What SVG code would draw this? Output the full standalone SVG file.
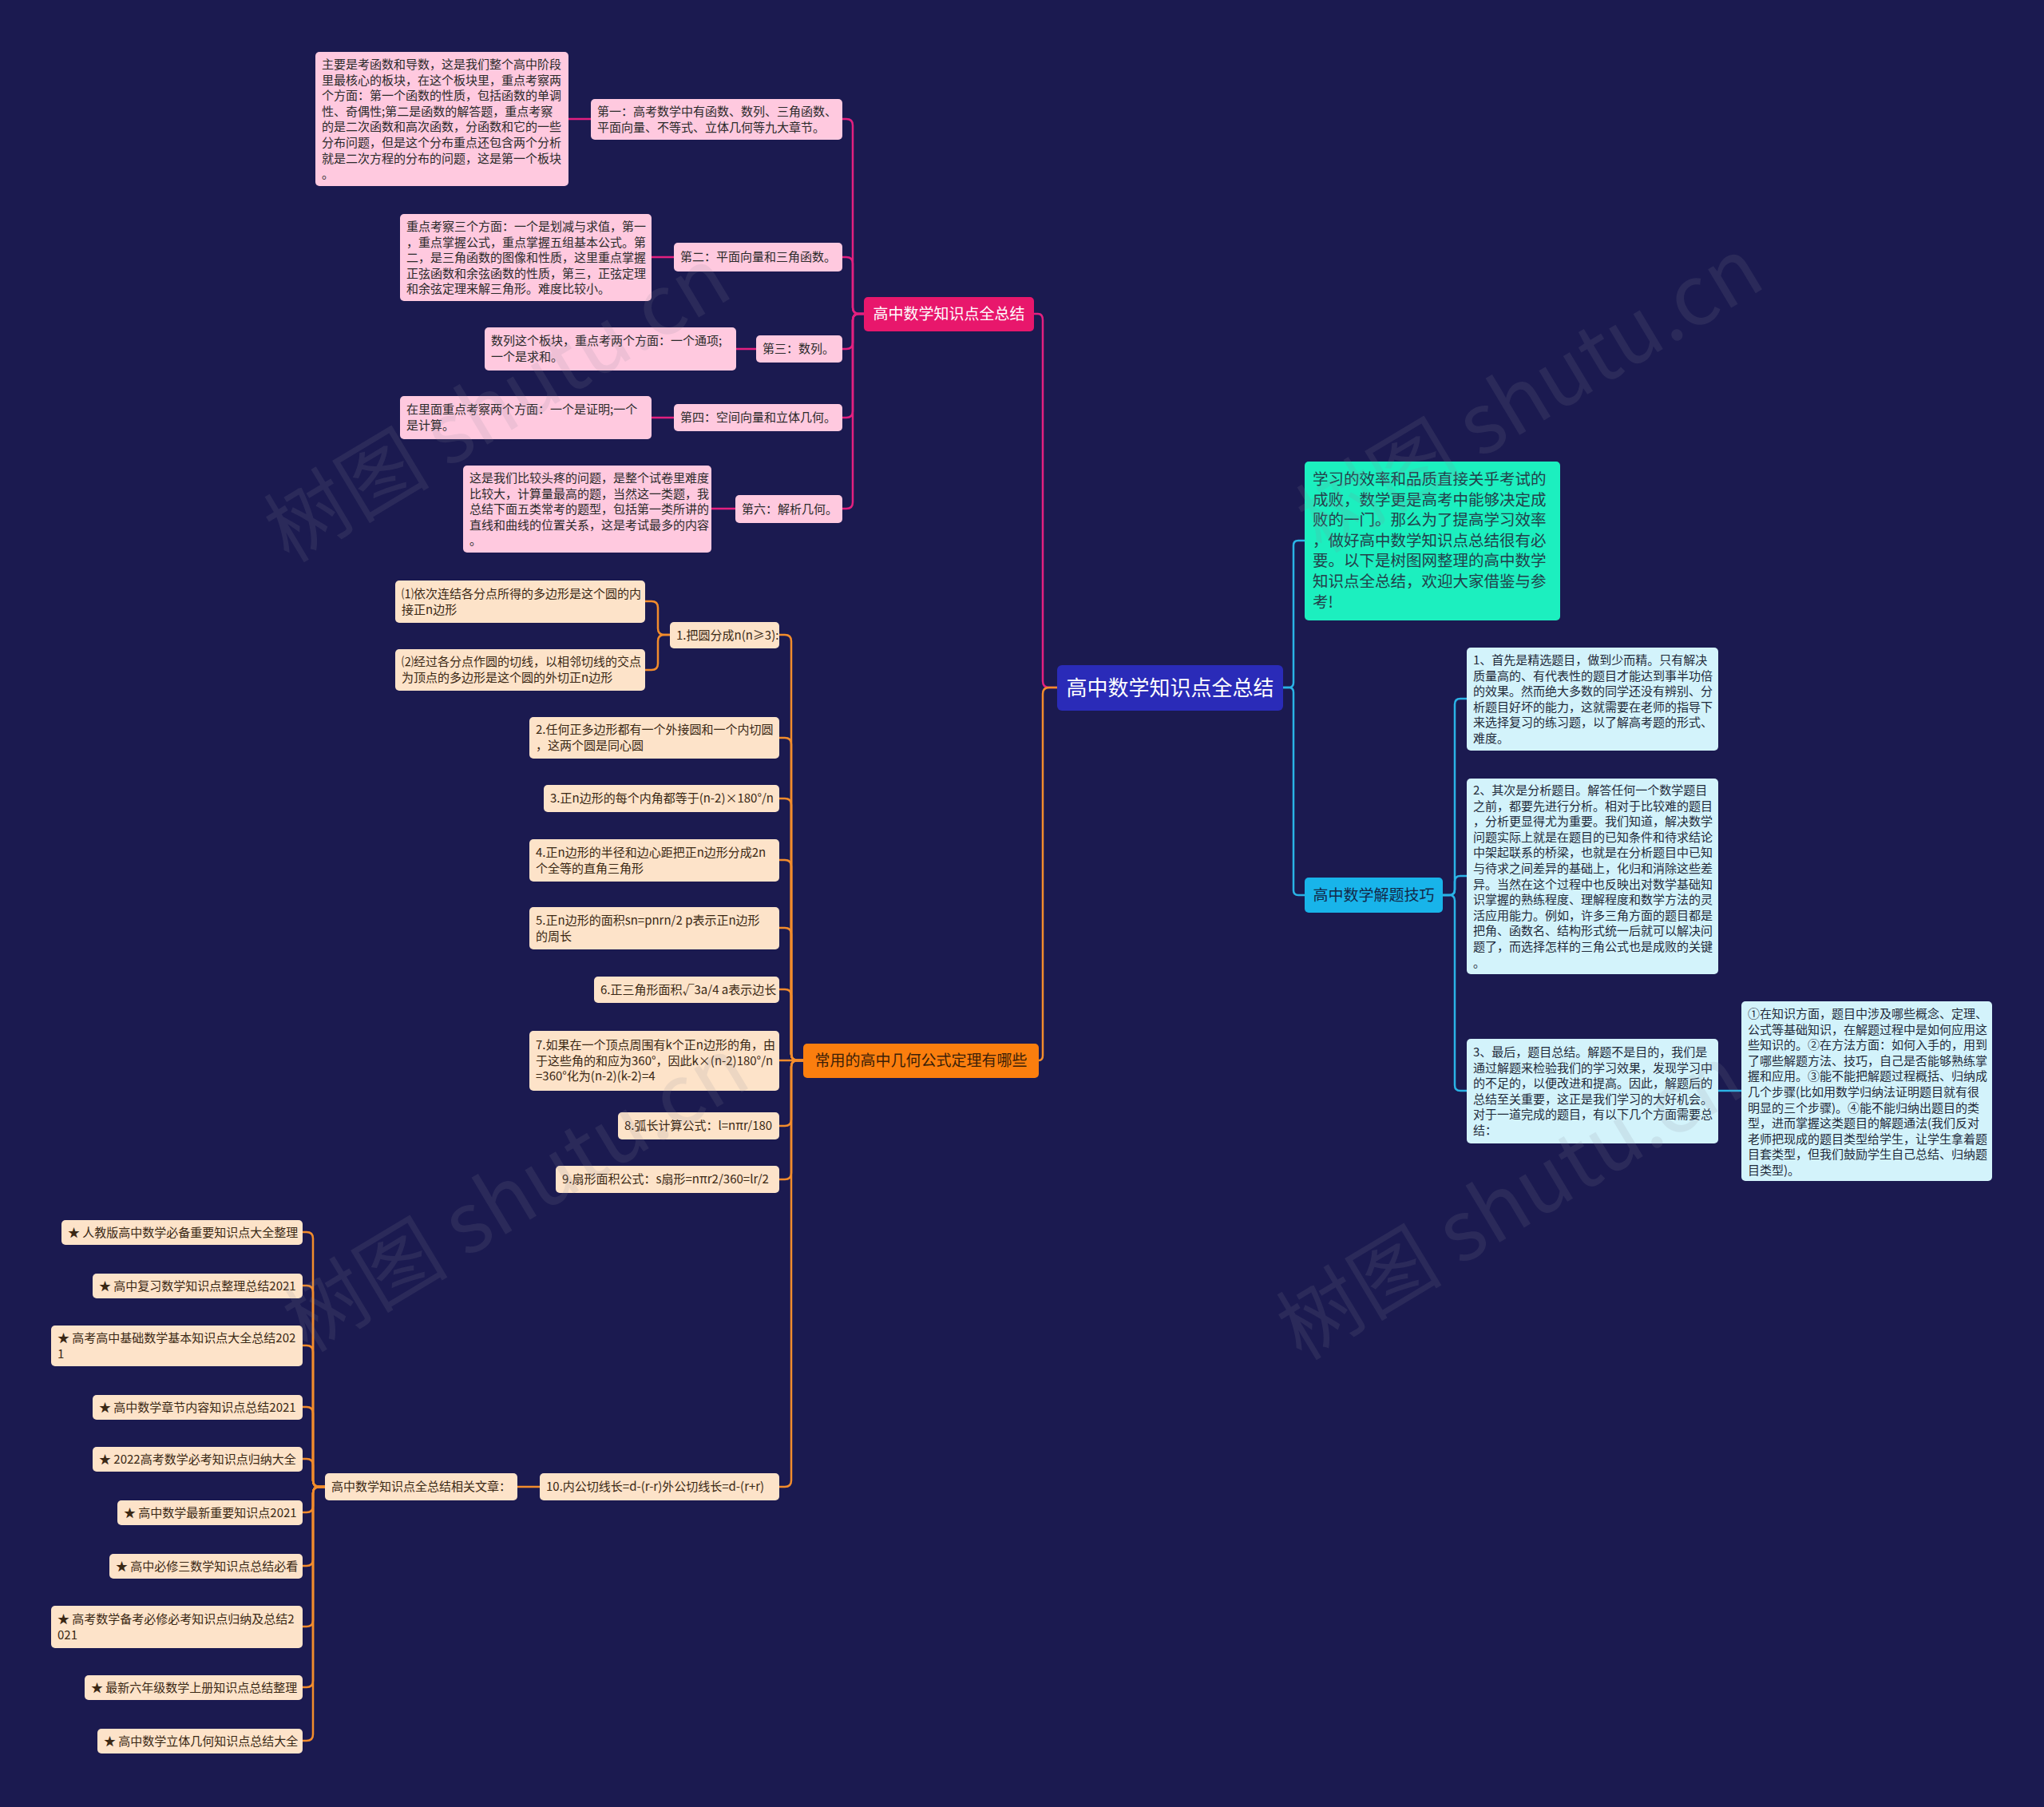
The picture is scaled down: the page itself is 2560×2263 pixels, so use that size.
<svg xmlns="http://www.w3.org/2000/svg" width="2560" height="2263" viewBox="0 0 2560 2263">
<style>
text{font-family:"Noto Sans CJK SC","Noto Sans",sans-serif}
.t15{font-size:15px}
.pk rect{fill:#ffc9df}
.pk text{fill:#2a2a2a}
.pe rect{fill:#fde3c9}
.pe text{fill:#3a2814}
.lb rect{fill:#d3f3fb}
.lb text{fill:#1f2a3a}
.cp{fill:none;stroke:#e3207f;stroke-width:2.5}
.co{fill:none;stroke:#f28c2c;stroke-width:2.5}
.cb{fill:none;stroke:#2ab3e6;stroke-width:2.5}
.wm{font-size:104px;fill:#8a8a9a;opacity:0.14}
</style>
<rect width="2560" height="2263" fill="#1b1a50"/>

<g id="connectors">
<path class="cp" d="M1324,861 H1314 Q1306,861 1306,853 V401 Q1306,393 1300,393 H1295"/>
<path class="co" d="M1324,861 H1314 Q1306,861 1306,869 V1322 Q1306,1328 1301,1328"/>
<path class="cp" d="M1082,393 H1076 Q1068,393 1068,385 V157 Q1068,149 1060,149 H1055"/>
<path class="cp" d="M1082,393 H1076 Q1068,393 1068,385 V330 Q1068,322 1060,322 H1055"/>
<path class="cp" d="M1082,393 H1076 Q1068,393 1068,401 V429 Q1068,437 1060,437 H1055"/>
<path class="cp" d="M1082,393 H1076 Q1068,393 1068,401 V515 Q1068,523 1060,523 H1055"/>
<path class="cp" d="M1082,393 H1076 Q1068,393 1068,401 V629 Q1068,637 1060,637 H1055"/>
<path class="cp" d="M740,149 H712 M844,322 H816 M947,437 H922 M844,523 H816 M921,637 H891"/>
<path class="co" d="M1007,1328 H999 Q991,1328 991,1320 V803 Q991,795 983,795 H976"/>
<path class="co" d="M1007,1328 H999 Q991,1328 991,1320 V932 Q991,924 983,924 H976"/>
<path class="co" d="M1007,1328 H999 Q991,1328 991,1320 V1008 Q991,1000 983,1000 H976"/>
<path class="co" d="M1007,1328 H999 Q991,1328 991,1320 V1085 Q991,1077 983,1077 H976"/>
<path class="co" d="M1007,1328 H999 Q991,1328 991,1320 V1170 Q991,1162 983,1162 H976"/>
<path class="co" d="M1007,1328 H999 Q991,1328 991,1320 V1247 Q991,1239 983,1239 H976"/>
<path class="co" d="M1007,1328 H976"/>
<path class="co" d="M1007,1328 H999 Q991,1328 991,1336 V1402 Q991,1410 983,1410 H976"/>
<path class="co" d="M1007,1328 H999 Q991,1328 991,1336 V1469 Q991,1477 983,1477 H976"/>
<path class="co" d="M1007,1328 H999 Q991,1328 991,1336 V1854 Q991,1862 983,1862 H976"/>
<path class="co" d="M839,795 H832 Q824,795 824,787 V761 Q824,753 816,753 H808"/>
<path class="co" d="M839,795 H832 Q824,795 824,803 V831 Q824,839 816,839 H808"/>
<path class="co" d="M676,1862 H648"/>
<path class="co" d="M407,1862 H400 Q392,1862 392,1854 V1551 Q392,1543 384,1543 H379"/>
<path class="co" d="M407,1862 H400 Q392,1862 392,1854 V1618 Q392,1610 384,1610 H379"/>
<path class="co" d="M407,1862 H400 Q392,1862 392,1854 V1693 Q392,1685 384,1685 H379"/>
<path class="co" d="M407,1862 H400 Q392,1862 392,1854 V1770 Q392,1762 384,1762 H379"/>
<path class="co" d="M407,1862 H400 Q392,1862 392,1854 V1835 Q392,1827 384,1827 H379"/>
<path class="co" d="M407,1862 H400 Q392,1862 392,1870 V1886 Q392,1894 384,1894 H379"/>
<path class="co" d="M407,1862 H400 Q392,1862 392,1870 V1953 Q392,1961 384,1961 H379"/>
<path class="co" d="M407,1862 H400 Q392,1862 392,1870 V2029 Q392,2037 384,2037 H379"/>
<path class="co" d="M407,1862 H400 Q392,1862 392,1870 V2105 Q392,2113 384,2113 H379"/>
<path class="co" d="M407,1862 H400 Q392,1862 392,1870 V2172 Q392,2180 384,2180 H379"/>
<path class="cb" d="M1607,861 H1614 Q1620,861 1620,855 V683 Q1620,677 1626,677 H1634"/>
<path class="cb" d="M1607,861 H1614 Q1620,861 1620,867 V1115 Q1620,1121 1626,1121 H1634"/>
<path class="cb" d="M1807,1121 H1815 Q1822,1121 1822,1114 V882 Q1822,875 1829,875 H1837"/>
<path class="cb" d="M1807,1121 H1815 Q1822,1121 1822,1114 V1104 Q1822,1097 1829,1097 H1837"/>
<path class="cb" d="M1807,1121 H1815 Q1822,1121 1822,1128 V1359 Q1822,1366 1829,1366 H1837"/>
<path class="cb" d="M2152,1366 H2181"/>
</g>

<g id="root"><rect x="1324" y="833" width="283" height="57" rx="6" fill="#2a2bb8"/><text x="1465.5" y="871" font-size="26" fill="#ffffff" text-anchor="middle">高中数学知识点全总结</text></g>

<g id="b-pink"><rect x="1082" y="372" width="213" height="43" rx="5" fill="#e8176c"/><text x="1188.5" y="400" font-size="19" fill="#ffffff" text-anchor="middle">高中数学知识点全总结</text></g>
<g id="p1" class="pk t15"><rect x="740" y="124" width="315" height="51" rx="5"/><text y="145"><tspan x="748">第一：高考数学中有函数、数列、三角函数、</tspan><tspan x="748" dy="19.6">平面向量、不等式、立体几何等九大章节。</tspan></text></g>
<g id="d1" class="pk t15"><rect x="395" y="65" width="317" height="168" rx="5"/><text y="86"><tspan x="403">主要是考函数和导数，这是我们整个高中阶段</tspan><tspan x="403" dy="19.6">里最核心的板块，在这个板块里，重点考察两</tspan><tspan x="403" dy="19.6">个方面：第一个函数的性质，包括函数的单调</tspan><tspan x="403" dy="19.6">性、奇偶性;第二是函数的解答题，重点考察</tspan><tspan x="403" dy="19.6">的是二次函数和高次函数，分函数和它的一些</tspan><tspan x="403" dy="19.6">分布问题，但是这个分布重点还包含两个分析</tspan><tspan x="403" dy="19.6">就是二次方程的分布的问题，这是第一个板块</tspan><tspan x="403" dy="19.6">。</tspan></text></g>
<g id="p2" class="pk t15"><rect x="844" y="304" width="211" height="36" rx="5"/><text x="852" y="327">第二：平面向量和三角函数。</text></g>
<g id="d2" class="pk t15"><rect x="501" y="268" width="315" height="109" rx="5"/><text y="289"><tspan x="509">重点考察三个方面：一个是划减与求值，第一</tspan><tspan x="509" dy="19.6">，重点掌握公式，重点掌握五组基本公式。第</tspan><tspan x="509" dy="19.6">二，是三角函数的图像和性质，这里重点掌握</tspan><tspan x="509" dy="19.6">正弦函数和余弦函数的性质，第三，正弦定理</tspan><tspan x="509" dy="19.6">和余弦定理来解三角形。难度比较小。</tspan></text></g>
<g id="p3" class="pk t15"><rect x="947" y="420" width="108" height="34" rx="5"/><text x="955" y="442">第三：数列。</text></g>
<g id="d3" class="pk t15"><rect x="607" y="410" width="315" height="54" rx="5"/><text y="432"><tspan x="615">数列这个板块，重点考两个方面：一个通项;</tspan><tspan x="615" dy="19.6">一个是求和。</tspan></text></g>
<g id="p4" class="pk t15"><rect x="844" y="506" width="211" height="34" rx="5"/><text x="852" y="528">第四：空间向量和立体几何。</text></g>
<g id="d4" class="pk t15"><rect x="501" y="496" width="315" height="54" rx="5"/><text y="518"><tspan x="509">在里面重点考察两个方面：一个是证明;一个</tspan><tspan x="509" dy="19.6">是计算。</tspan></text></g>
<g id="p6" class="pk t15"><rect x="921" y="620" width="134" height="35" rx="5"/><text x="929" y="643">第六：解析几何。</text></g>
<g id="d6" class="pk t15"><rect x="580" y="583" width="311" height="109" rx="5"/><text y="604"><tspan x="588">这是我们比较头疼的问题，是整个试卷里难度</tspan><tspan x="588" dy="19.6">比较大，计算量最高的题，当然这一类题，我</tspan><tspan x="588" dy="19.6">总结下面五类常考的题型，包括第一类所讲的</tspan><tspan x="588" dy="19.6">直线和曲线的位置关系，这是考试最多的内容</tspan><tspan x="588" dy="19.6">。</tspan></text></g>

<g id="b-orange"><rect x="1006" y="1307" width="295" height="43" rx="5" fill="#fb7e0e"/><text x="1153.5" y="1335" font-size="19" fill="#3a1e08" text-anchor="middle">常用的高中几何公式定理有哪些</text></g>
<g id="o1" class="pe t15"><rect x="839" y="779" width="137" height="33" rx="5"/><text x="847" y="801">1.把圆分成n(n≥3):</text></g>
<g id="o1a" class="pe t15"><rect x="495" y="727" width="313" height="53" rx="5"/><text y="749"><tspan x="503">⑴依次连结各分点所得的多边形是这个圆的内</tspan><tspan x="503" dy="19.6">接正n边形</tspan></text></g>
<g id="o1b" class="pe t15"><rect x="495" y="813" width="313" height="52" rx="5"/><text y="834"><tspan x="503">⑵经过各分点作圆的切线，以相邻切线的交点</tspan><tspan x="503" dy="19.6">为顶点的多边形是这个圆的外切正n边形</tspan></text></g>
<g id="o2" class="pe t15"><rect x="663" y="898" width="313" height="52" rx="5"/><text y="919"><tspan x="671">2.任何正多边形都有一个外接圆和一个内切圆</tspan><tspan x="671" dy="19.6">，这两个圆是同心圆</tspan></text></g>
<g id="o3" class="pe t15"><rect x="681" y="983" width="295" height="34" rx="5"/><text x="689" y="1005">3.正n边形的每个内角都等于(n-2)×180°/n</text></g>
<g id="o4" class="pe t15"><rect x="663" y="1051" width="313" height="53" rx="5"/><text y="1073"><tspan x="671">4.正n边形的半径和边心距把正n边形分成2n</tspan><tspan x="671" dy="19.6">个全等的直角三角形</tspan></text></g>
<g id="o5" class="pe t15"><rect x="663" y="1136" width="313" height="53" rx="5"/><text y="1158"><tspan x="671">5.正n边形的面积sn=pnrn/2 p表示正n边形</tspan><tspan x="671" dy="19.6">的周长</tspan></text></g>
<g id="o6" class="pe t15"><rect x="744" y="1223" width="232" height="33" rx="5"/><text x="752" y="1245">6.正三角形面积√3a/4 a表示边长</text></g>
<g id="o7" class="pe t15"><rect x="663" y="1291" width="313" height="75" rx="5"/><text y="1314"><tspan x="671">7.如果在一个顶点周围有k个正n边形的角，由</tspan><tspan x="671" dy="19.6">于这些角的和应为360°，因此k×(n-2)180°/n</tspan><tspan x="671" dy="19.6">=360°化为(n-2)(k-2)=4</tspan></text></g>
<g id="o8" class="pe t15"><rect x="774" y="1393" width="202" height="34" rx="5"/><text x="782" y="1415">8.弧长计算公式：l=nπr/180</text></g>
<g id="o9" class="pe t15"><rect x="696" y="1460" width="280" height="34" rx="5"/><text x="704" y="1482">9.扇形面积公式：s扇形=nπr2/360=lr/2</text></g>
<g id="o10" class="pe t15"><rect x="676" y="1845" width="300" height="34" rx="5"/><text x="684" y="1867">10.内公切线长=d-(r-r)外公切线长=d-(r+r)</text></g>
<g id="rel" class="pe t15"><rect x="407" y="1845" width="241" height="34" rx="5"/><text x="415" y="1867">高中数学知识点全总结相关文章：</text></g>
<g id="a1" class="pe t15"><rect x="77" y="1528" width="302" height="31" rx="5"/><text x="85" y="1549">★ 人教版高中数学必备重要知识点大全整理</text></g>
<g id="a2" class="pe t15"><rect x="116" y="1595" width="263" height="31" rx="5"/><text x="124" y="1616">★ 高中复习数学知识点整理总结2021</text></g>
<g id="a3" class="pe t15"><rect x="64" y="1660" width="315" height="51" rx="5"/><text y="1681"><tspan x="72">★ 高考高中基础数学基本知识点大全总结202</tspan><tspan x="72" dy="19.6">1</tspan></text></g>
<g id="a4" class="pe t15"><rect x="116" y="1747" width="263" height="31" rx="5"/><text x="124" y="1768">★ 高中数学章节内容知识点总结2021</text></g>
<g id="a5" class="pe t15"><rect x="116" y="1812" width="263" height="31" rx="5"/><text x="124" y="1833">★ 2022高考数学必考知识点归纳大全</text></g>
<g id="a6" class="pe t15"><rect x="147" y="1879" width="232" height="31" rx="5"/><text x="155" y="1900">★ 高中数学最新重要知识点2021</text></g>
<g id="a7" class="pe t15"><rect x="137" y="1946" width="242" height="31" rx="5"/><text x="145" y="1967">★ 高中必修三数学知识点总结必看</text></g>
<g id="a8" class="pe t15"><rect x="64" y="2011" width="315" height="53" rx="5"/><text y="2033"><tspan x="72">★ 高考数学备考必修必考知识点归纳及总结2</tspan><tspan x="72" dy="19.6">021</tspan></text></g>
<g id="a9" class="pe t15"><rect x="106" y="2098" width="273" height="31" rx="5"/><text x="114" y="2119">★ 最新六年级数学上册知识点总结整理</text></g>
<g id="a10" class="pe t15"><rect x="122" y="2165" width="257" height="31" rx="5"/><text x="130" y="2186">★ 高中数学立体几何知识点总结大全</text></g>

<g id="intro"><rect x="1634" y="578" width="320" height="199" rx="5" fill="#1cefbf"/><text font-size="19.5" fill="#23404a" y="607"><tspan x="1644">学习的效率和品质直接关乎考试的</tspan><tspan x="1644" dy="25.6">成败，数学更是高考中能够决定成</tspan><tspan x="1644" dy="25.6">败的一门。那么为了提高学习效率</tspan><tspan x="1644" dy="25.6">，做好高中数学知识点总结很有必</tspan><tspan x="1644" dy="25.6">要。以下是树图网整理的高中数学</tspan><tspan x="1644" dy="25.6">知识点全总结，欢迎大家借鉴与参</tspan><tspan x="1644" dy="25.6">考!</tspan></text></g>

<g id="b-blue"><rect x="1634" y="1099" width="173" height="44" rx="5" fill="#18b4ea"/><text x="1720.5" y="1128" font-size="19" fill="#132848" text-anchor="middle">高中数学解题技巧</text></g>
<g id="bl1" class="lb t15"><rect x="1837" y="811" width="315" height="129" rx="5"/><text y="832"><tspan x="1845">1、首先是精选题目，做到少而精。只有解决</tspan><tspan x="1845" dy="19.6">质量高的、有代表性的题目才能达到事半功倍</tspan><tspan x="1845" dy="19.6">的效果。然而绝大多数的同学还没有辨别、分</tspan><tspan x="1845" dy="19.6">析题目好坏的能力，这就需要在老师的指导下</tspan><tspan x="1845" dy="19.6">来选择复习的练习题，以了解高考题的形式、</tspan><tspan x="1845" dy="19.6">难度。</tspan></text></g>
<g id="bl2" class="lb t15"><rect x="1837" y="975" width="315" height="245" rx="5"/><text y="995"><tspan x="1845">2、其次是分析题目。解答任何一个数学题目</tspan><tspan x="1845" dy="19.6">之前，都要先进行分析。相对于比较难的题目</tspan><tspan x="1845" dy="19.6">，分析更显得尤为重要。我们知道，解决数学</tspan><tspan x="1845" dy="19.6">问题实际上就是在题目的已知条件和待求结论</tspan><tspan x="1845" dy="19.6">中架起联系的桥梁，也就是在分析题目中已知</tspan><tspan x="1845" dy="19.6">与待求之间差异的基础上，化归和消除这些差</tspan><tspan x="1845" dy="19.6">异。当然在这个过程中也反映出对数学基础知</tspan><tspan x="1845" dy="19.6">识掌握的熟练程度、理解程度和数学方法的灵</tspan><tspan x="1845" dy="19.6">活应用能力。例如，许多三角方面的题目都是</tspan><tspan x="1845" dy="19.6">把角、函数名、结构形式统一后就可以解决问</tspan><tspan x="1845" dy="19.6">题了，而选择怎样的三角公式也是成败的关键</tspan><tspan x="1845" dy="19.6">。</tspan></text></g>
<g id="bl3" class="lb t15"><rect x="1837" y="1301" width="315" height="131" rx="5"/><text y="1323"><tspan x="1845">3、最后，题目总结。解题不是目的，我们是</tspan><tspan x="1845" dy="19.6">通过解题来检验我们的学习效果，发现学习中</tspan><tspan x="1845" dy="19.6">的不足的，以便改进和提高。因此，解题后的</tspan><tspan x="1845" dy="19.6">总结至关重要，这正是我们学习的大好机会。</tspan><tspan x="1845" dy="19.6">对于一道完成的题目，有以下几个方面需要总</tspan><tspan x="1845" dy="19.6">结：</tspan></text></g>
<g id="bl3s" class="lb t15"><rect x="2181" y="1254" width="314" height="225" rx="5"/><text y="1275"><tspan x="2189">①在知识方面，题目中涉及哪些概念、定理、</tspan><tspan x="2189" dy="19.6">公式等基础知识，在解题过程中是如何应用这</tspan><tspan x="2189" dy="19.6">些知识的。②在方法方面：如何入手的，用到</tspan><tspan x="2189" dy="19.6">了哪些解题方法、技巧，自己是否能够熟练掌</tspan><tspan x="2189" dy="19.6">握和应用。③能不能把解题过程概括、归纳成</tspan><tspan x="2189" dy="19.6">几个步骤(比如用数学归纳法证明题目就有很</tspan><tspan x="2189" dy="19.6">明显的三个步骤)。④能不能归纳出题目的类</tspan><tspan x="2189" dy="19.6">型，进而掌握这类题目的解题通法(我们反对</tspan><tspan x="2189" dy="19.6">老师把现成的题目类型给学生，让学生拿着题</tspan><tspan x="2189" dy="19.6">目套类型，但我们鼓励学生自己总结、归纳题</tspan><tspan x="2189" dy="19.6">目类型)。</tspan></text></g>

<g id="watermarks">
<text class="wm" transform="translate(362,706) rotate(-31)">树图 shutu.cn</text>
<text class="wm" transform="translate(1655,694) rotate(-31)">树图 shutu.cn</text>
<text class="wm" transform="translate(385,1695) rotate(-31)">树图 shutu.cn</text>
<text class="wm" transform="translate(1630,1705) rotate(-31)">树图 shutu.cn</text>
</g>
</svg>
